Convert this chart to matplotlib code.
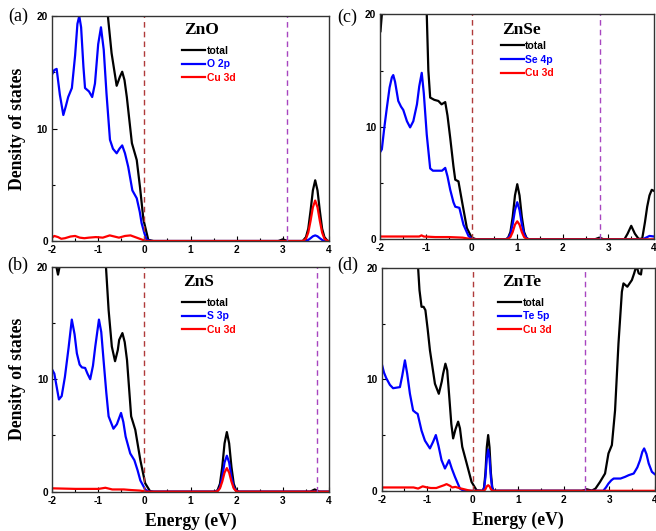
import matplotlib
matplotlib.use("Agg")
import matplotlib.pyplot as plt
from matplotlib.ticker import MultipleLocator

plt.rcParams["axes.unicode_minus"] = False

# ---- data (energy in eV, DOS in states) ----
panels = ["(a)", "(b)", "(c)", "(d)"]
compounds = ["ZnO", "ZnS", "ZnSe", "ZnTe"]
anion_labels = ["O 2p", "S 3p", "Se 4p", "Te 5p"]
gap_edges = [3.08, 3.74, 2.81, 2.46]   # purple dashed line (CBM)

# (a) ZnO
e_tot_a = [-0.84, -0.79, -0.71, -0.60, -0.53, -0.48, -0.43, -0.38, -0.27, -0.165, -0.095, -0.02, 0.085, 0.2,
           2.9, 3.0, 3.1, 3.43, 3.5, 3.55, 3.6, 3.65, 3.7, 3.75, 3.8, 3.85, 3.9, 3.97, 4.0]
d_tot_a = [22, 20, 16.7, 13.8, 14.6, 15.05, 14.3, 12.8, 8.7, 7.2, 4.8, 1.9, 0.1, 0,
           0, 0.15, 0, 0, 0.35, 1.1, 2.7, 4.5, 5.4, 4.5, 2.7, 1.1, 0.35, 0, 0]
e_p_a = [-2.0, -1.95, -1.90, -1.83, -1.755, -1.70, -1.65, -1.57, -1.50, -1.45, -1.41, -1.37, -1.32, -1.285,
         -1.20, -1.13, -1.07, -1.00, -0.94, -0.88, -0.82, -0.745, -0.68, -0.60, -0.54, -0.48, -0.42, -0.35,
         -0.26, -0.165, -0.10, -0.06, 0.0, 0.05, 0.15, 3.5, 3.55, 3.6, 3.65, 3.7, 3.75, 3.8, 3.85, 3.9, 4.0]
d_p_a = [14.8, 15.2, 15.3, 13.0, 11.2, 12.0, 12.8, 13.6, 16.5, 19.3, 20.0, 19.0, 15.5, 13.6,
         13.3, 12.8, 14.0, 17.5, 19.0, 17.0, 13.1, 9.0, 8.2, 7.8, 8.2, 8.5, 7.8, 6.6,
         4.5, 3.8, 2.6, 1.6, 0.7, 0.1, 0, 0, 0.1, 0.25, 0.42, 0.5, 0.42, 0.25, 0.1, 0, 0]
e_cu_a = [-2.0, -1.95, -1.87, -1.8, -1.72, -1.6, -1.5, -1.4, -1.3, -1.2, -1.05, -0.9, -0.75, -0.65, -0.55,
          -0.42, -0.3, -0.2, -0.1, 0.0, 0.08, 3.43, 3.5, 3.55, 3.6, 3.65, 3.7, 3.75, 3.8, 3.85, 3.9, 3.97, 4.0]
d_cu_a = [0.3, 0.45, 0.35, 0.2, 0.25, 0.4, 0.45, 0.3, 0.25, 0.3, 0.35, 0.3, 0.5, 0.4, 0.3,
          0.45, 0.5, 0.35, 0.2, 0.05, 0, 0, 0.2, 0.75, 1.8, 3.0, 3.6, 3.0, 1.8, 0.75, 0.2, 0, 0]

# (b) ZnS
e_tot_b = [-2.0, -1.93, -1.88, -1.83, -0.86, -0.78, -0.71, -0.64, -0.58, -0.55, -0.48, -0.43, -0.38,
           -0.29, -0.20, -0.09, 0.015, 0.12, 0.2, 1.54, 1.59, 1.64, 1.69, 1.74, 1.79, 1.84, 1.89, 1.94,
           1.99, 2.05, 3.6, 3.7, 3.8, 4.0]
d_tot_b = [21, 20.3, 19.3, 20.3, 21.5, 16.15, 12.9, 11.6, 12.6, 13.5, 14.1, 13.3, 11.7,
           6.7, 5.5, 2.8, 0.75, 0.05, 0, 0, 0.15, 0.7, 2.2, 4.3, 5.3, 4.3, 2.2, 0.7, 0.15, 0, 0, 0.2, 0, 0]
e_p_b = [-2.0, -1.96, -1.86, -1.80, -1.73, -1.65, -1.58, -1.52, -1.47, -1.41, -1.36, -1.29, -1.24, -1.18,
         -1.12, -1.07, -0.99, -0.94, -0.89, -0.83, -0.78, -0.675, -0.60, -0.51, -0.46, -0.41, -0.31,
         -0.22, -0.15, -0.09, 0.015, 0.09, 1.54, 1.59, 1.64, 1.69, 1.74, 1.79, 1.84, 1.89, 1.94, 1.99, 2.05, 4.0]
d_p_b = [10.8, 10.5, 8.2, 8.5, 10.2, 12.8, 15.3, 14.0, 12.3, 11.3, 11.05, 11.0, 10.5, 10.0,
         11.2, 12.9, 15.3, 14.2, 11.7, 8.8, 6.7, 5.6, 6.0, 7.0, 6.2, 4.9, 3.4,
         2.8, 1.9, 1.0, 0.2, 0, 0, 0.08, 0.4, 1.3, 2.6, 3.2, 2.6, 1.3, 0.4, 0.08, 0, 0]
e_cu_b = [-2.0, -1.5, -1.0, -0.85, -0.7, -0.45, -0.3, -0.1, 0.05, 1.54, 1.59, 1.64, 1.69, 1.74, 1.79,
          1.84, 1.89, 1.94, 1.99, 2.05, 4.0]
d_cu_b = [0.3, 0.25, 0.25, 0.35, 0.2, 0.2, 0.15, 0.1, 0, 0, 0.05, 0.3, 0.9, 1.7, 2.1,
          1.7, 0.9, 0.3, 0.05, 0, 0]

# (c) ZnSe
e_tot_c = [-2.0, -1.97, -1.94, -1.0, -0.985, -0.95, -0.91, -0.82, -0.73, -0.66, -0.58, -0.53, -0.47,
           -0.40, -0.36, -0.29, -0.20, -0.105, 0.0, 0.1, 0.75, 0.8, 0.85, 0.9, 0.95, 1.0, 1.05, 1.1, 1.15,
           1.2, 1.25, 2.7, 2.8, 2.9, 3.35, 3.42, 3.5, 3.58, 3.66, 3.74, 3.8, 3.85, 3.9, 3.95, 4.0]
d_tot_c = [18.5, 20.0, 22, 22, 20, 15, 12.6, 12.4, 12.3, 12.0, 12.2, 11.0, 9.0,
           6.5, 5.3, 5.15, 3.1, 1.0, 0.15, 0, 0, 0.15, 0.65, 2.0, 3.9, 4.9, 3.9, 2.0, 0.65,
           0.15, 0, 0, 0.15, 0, 0, 0.5, 1.2, 0.5, 0.05, 0.05, 1.5, 2.9, 3.9, 4.4, 4.3]
e_p_c = [-2.0, -1.97, -1.92, -1.86, -1.80, -1.75, -1.72, -1.68, -1.61, -1.55, -1.50, -1.42, -1.35, -1.28,
         -1.20, -1.15, -1.095, -1.05, -0.985, -0.91, -0.85, -0.73, -0.65, -0.58, -0.53, -0.47, -0.40,
         -0.36, -0.27, -0.18, -0.07, 0.0, 0.1, 0.75, 0.8, 0.85, 0.9, 0.95, 1.0, 1.05, 1.1, 1.15, 1.2,
         1.25, 3.75, 3.85, 3.9, 4.0]
d_p_c = [7.8, 8.0, 9.8, 11.7, 13.5, 14.4, 14.6, 14.0, 12.3, 11.8, 11.5, 10.5, 9.95, 10.5,
         12.0, 13.6, 14.8, 13.0, 9.3, 6.3, 6.1, 6.1, 6.1, 6.35, 5.6, 4.4, 3.3,
         2.9, 2.8, 1.3, 0.3, 0.05, 0, 0, 0.1, 0.45, 1.35, 2.6, 3.3, 2.6, 1.35, 0.45, 0.1,
         0, 0, 0.2, 0.3, 0.25]
e_cu_c = [-2.0, -1.6, -1.3, -1.15, -1.1, -1.05, -0.8, -0.5, -0.2, -0.05, 0.05, 0.75, 0.8, 0.85, 0.9,
          0.95, 1.0, 1.05, 1.1, 1.15, 1.2, 1.25, 4.0]
d_cu_c = [0.25, 0.25, 0.25, 0.25, 0.35, 0.25, 0.2, 0.2, 0.15, 0.05, 0, 0, 0.05, 0.2, 0.65,
          1.3, 1.6, 1.3, 0.65, 0.2, 0.05, 0, 0]

# (d) ZnTe
e_tot_d = [-1.22, -1.20, -1.17, -1.125, -1.08, -1.04, -0.99, -0.94, -0.83, -0.745, -0.68, -0.65, -0.60,
           -0.56, -0.52, -0.47, -0.43, -0.38, -0.32, -0.28, -0.23, -0.135, -0.025, 0.085, 0.22, 0.25,
           0.28, 0.31, 0.34, 0.37, 0.40, 0.43, 0.46, 2.4, 2.45, 2.51, 2.56, 2.62, 2.70, 2.80, 2.91, 2.985,
           3.06, 3.13, 3.205, 3.28, 3.315, 3.40, 3.50, 3.55, 3.60, 3.65, 3.70, 3.75]
d_tot_d = [21, 20, 18.0, 16.5, 16.5, 16.2, 14.5, 12.6, 9.6, 8.7, 9.8, 10.5, 11.4,
           10.8, 8.7, 6.0, 4.7, 5.5, 6.2, 5.6, 3.95, 2.5, 0.8, 0.05, 0, 0.3,
           1.6, 3.9, 5.0, 3.9, 1.6, 0.3, 0, 0, 0.05, 0.13, 0.08, 0.02, 0.2, 0.8, 1.55, 3.35,
           4.1, 7.2, 13.2, 17.85, 18.6, 18.3, 18.9, 19.5, 20.2, 19.5, 19.4, 21]
e_p_d = [-2.0, -1.95, -1.90, -1.82, -1.75, -1.60, -1.55, -1.49, -1.44, -1.38, -1.31, -1.25, -1.21, -1.125,
         -1.05, -0.94, -0.87, -0.81, -0.75, -0.685, -0.61, -0.56, -0.52, -0.46, -0.39, -0.28, -0.2, 0.22,
         0.25, 0.28, 0.31, 0.34, 0.37, 0.40, 0.43, 0.46, 2.87, 2.93, 2.985, 3.05, 3.10, 3.25, 3.35, 3.43,
         3.54, 3.62, 3.68, 3.73, 3.77, 3.82, 3.87, 3.94, 4.0]
d_p_d = [11.4, 10.6, 10.1, 9.5, 9.2, 9.3, 10.3, 11.7, 10.5, 8.7, 7.2, 7.0, 6.9, 5.4,
         4.5, 3.8, 4.4, 5.0, 4.0, 2.75, 2.0, 2.4, 2.75, 2.0, 1.25, 0.2, 0, 0,
         0.2, 1.2, 2.9, 3.7, 2.9, 1.2, 0.2, 0, 0, 0.3, 0.65, 0.95, 1.1, 1.1, 1.25, 1.4,
         1.55, 2.1, 2.75, 3.5, 3.8, 3.3, 2.45, 1.7, 1.5]
e_cu_d = [-2.0, -1.5, -1.3, -1.2, -1.1, -1.0, -0.92, -0.8, -0.7, -0.63, -0.575, -0.5, -0.45, -0.38, -0.3,
          -0.2, -0.1, -0.02, 0.25, 0.28, 0.31, 0.34, 0.37, 0.40, 0.43, 4.0]
d_cu_d = [0.3, 0.3, 0.3, 0.2, 0.4, 0.3, 0.25, 0.25, 0.4, 0.5, 0.6, 0.45, 0.3, 0.35, 0.25,
          0.15, 0.05, 0, 0, 0.15, 0.4, 0.5, 0.4, 0.15, 0, 0]

totals = [(e_tot_a, d_tot_a), (e_tot_b, d_tot_b), (e_tot_c, d_tot_c), (e_tot_d, d_tot_d)]
anions = [(e_p_a, d_p_a), (e_p_b, d_p_b), (e_p_c, d_p_c), (e_p_d, d_p_d)]
coppers = [(e_cu_a, d_cu_a), (e_cu_b, d_cu_b), (e_cu_c, d_cu_c), (e_cu_d, d_cu_d)]

SERIF = "Liberation Serif"
SANS = "Liberation Sans"

# axes rectangles in figure fraction (left, bottom, width, height)
rects = [
    (0.0793, 0.5461, 0.4223, 0.4237),   # (a)
    (0.0800, 0.0740, 0.4208, 0.4237),   # (b)
    (0.5800, 0.5493, 0.4170, 0.4237),   # (c)
    (0.5819, 0.0757, 0.4160, 0.4200),   # (d)
]
title_pos = [(0.54, 0.94), (0.53, 0.93), (0.516, 0.932), (0.513, 0.935)]
legend_pos = [(0.47, 0.868), (0.47, 0.862), (0.44, 0.882), (0.427, 0.866)]
tag_pos = [(18, 16), (18, 265), (347, 17), (348, 265)]  # pixels from top-left

fig = plt.figure(figsize=(6.56, 5.31), dpi=100)

for i in range(4):
    ax = fig.add_axes(rects[i])
    style = dict(lw=1.6, solid_joinstyle="round")
    ax.plot(*totals[i], color="black", label="total", **style)
    ax.plot(*anions[i], color="#0000ff", label=anion_labels[i], **style)
    ax.plot(*coppers[i], color="#ff0000", label="Cu 3d", **style)
    ax.axvline(0, color="#b03a3a", lw=1.0, ls=(0, (4, 3)))
    ax.axvline(gap_edges[i], color="#a845c0", lw=1.0, ls=(0, (4, 3)))

    ax.set_xlim(-2, 4)
    ax.set_ylim(0, 20)
    ax.xaxis.set_major_locator(MultipleLocator(1))
    ax.xaxis.set_minor_locator(MultipleLocator(0.5))
    ax.yaxis.set_major_locator(MultipleLocator(10))
    ax.yaxis.set_minor_locator(MultipleLocator(5))
    ax.tick_params(which="both", direction="in", width=0.8)
    ax.tick_params(which="major", length=3.5, pad=3)
    ax.tick_params(which="minor", length=2)
    for lab in ax.get_xticklabels() + ax.get_yticklabels():
        lab.set_fontfamily(SANS)
        lab.set_fontweight("bold")
        lab.set_fontsize(7.3)
    for sp in ax.spines.values():
        sp.set_linewidth(1.0)
        sp.set_color("#333333")

    ax.text(*title_pos[i], compounds[i], transform=ax.transAxes, ha="center", va="center",
            fontfamily=SERIF, fontweight="bold", fontsize=12.5)
    ax.legend(loc="upper left", bbox_to_anchor=legend_pos[i], frameon=False,
              borderpad=0, borderaxespad=0, handlelength=2.2, handletextpad=0.15,
              labelspacing=0.35, labelcolor="linecolor",
              prop={"family": SANS, "weight": "bold", "size": 7.5})

    fig.text(tag_pos[i][0] / 656, 1 - tag_pos[i][1] / 531, panels[i], ha="center", va="center",
             fontfamily=SERIF, fontsize=13)

    if i < 2:
        ax.set_ylabel("Density of states", fontfamily=SERIF, fontweight="bold", fontsize=12.7)
        ax.yaxis.set_label_coords(-0.095, 0.5)
    if i in (1, 3):
        ax.set_xlabel("Energy (eV)", fontfamily=SERIF, fontweight="bold", fontsize=12.7, labelpad=5)

fig.savefig("out.png", dpi=100)
